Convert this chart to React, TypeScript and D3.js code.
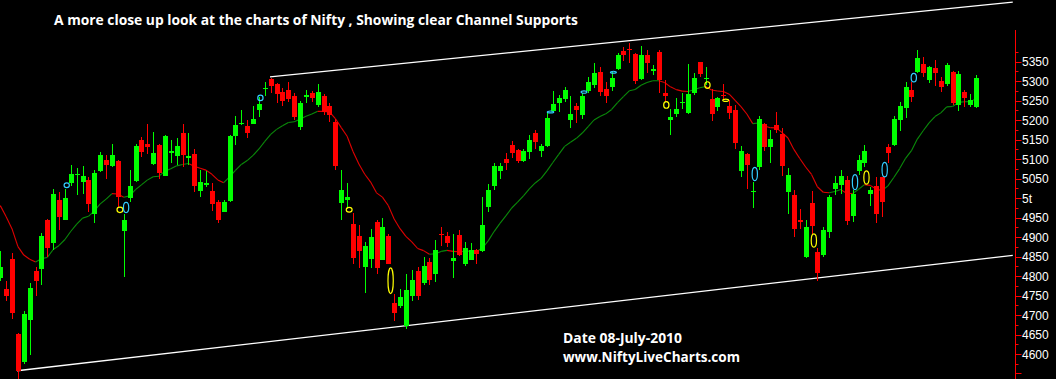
import React from "react";
import * as d3 from "d3";

// OHLC data (Nifty daily, ~Nov 2009 – 08 Jul 2010)
const opens = [4795,4767,4844,4651,4580,4687,4814,4818,4943,4884,4996,4945,5039,5059,5041,5047,4960,5070,5099,5083,5095,4915,5001,5044,5149,5140,5088,5136,5058,5116,5107,5166,5104,5113,5017,5035,5017,4990,4964,4992,5160,5190,5186,5191,5226,5280,5306,5294,5273,5277,5263,5183,5261,5270,5239,5262,5236,5196,4987,4996,4933,4902,4823,4844,4939,4842,4904,4730,4722,4673,4750,4814,4782,4837,4806,4909,4904,4838,4906,4831,4842,4868,4864,4977,5030,5070,5100,5136,5123,5095,5119,5168,5121,5134,5224,5245,5254,5200,5236,5213,5275,5290,5324,5279,5286,5330,5378,5383,5369,5306,5367,5329,5376,5269,5200,5216,5245,5219,5270,5348,5306,5254,5234,5265,5236,5226,5070,5113,5017,5080,5191,5131,5187,5164,5016,5007,4945,4848,4988,4863,4853,4913,5023,5033,5046,4953,5070,5090,5010,5030,5053,5130,5136,5200,5232,5277,5324,5344,5303,5334,5301,5294,5324,5239,5271,5239,5234];
const highs = [4865,4788,4859,4655,4711,4782,4823,4910,4947,5024,5016,5024,5084,5076,5082,5054,5071,5119,5110,5140,5097,4960,5073,5140,5157,5191,5170,5140,5163,5150,5153,5189,5167,5125,5071,5070,5039,4996,4996,5163,5210,5226,5200,5236,5260,5299,5308,5296,5282,5297,5270,5249,5277,5275,5293,5267,5243,5204,5073,5040,4963,4930,4887,4921,4943,4950,4909,4754,4767,4806,4816,4823,4848,4846,4893,4927,4913,4907,4917,4887,4884,4870,5003,5035,5089,5089,5117,5146,5127,5125,5162,5174,5138,5222,5275,5264,5286,5262,5245,5269,5312,5346,5337,5299,5324,5373,5389,5399,5373,5390,5380,5342,5380,5303,5228,5256,5269,5344,5320,5350,5337,5280,5260,5293,5252,5239,5133,5116,5041,5210,5193,5174,5221,5179,5077,5020,4973,4943,5018,4872,4926,5009,5056,5071,5056,5020,5110,5136,5029,5054,5054,5138,5210,5247,5299,5299,5380,5361,5339,5354,5312,5346,5327,5327,5277,5267,5316];
const lows = [4788,4737,4690,4534,4574,4597,4750,4777,4848,4867,4917,4943,5030,5007,5010,4964,4936,5067,5050,5080,4977,4797,4990,5041,5106,5113,5085,5050,5056,5090,5084,5080,5084,5016,5003,5028,4968,4936,4964,4990,5136,5187,5155,5190,5209,5263,5269,5243,5237,5247,5200,5174,5245,5246,5234,5213,5196,5073,4943,4973,4831,4821,4756,4821,4806,4840,4830,4684,4718,4664,4735,4739,4776,4776,4784,4878,4874,4795,4852,4827,4840,4831,4862,4964,5022,5048,5071,5103,5090,5092,5100,5125,5106,5131,5222,5222,5247,5180,5193,5204,5269,5282,5262,5245,5276,5328,5353,5346,5294,5303,5322,5316,5269,5247,5162,5207,5228,5216,5264,5312,5290,5198,5224,5252,5202,5127,5053,5024,4975,5071,5121,5089,5166,5056,4960,4900,4920,4846,4908,4788,4850,4898,5007,5011,4930,4938,5059,5080,4981,4936,4951,5089,5133,5173,5206,5247,5320,5310,5296,5288,5271,5288,5240,5224,5233,5234,5230];
const closes = [4822,4748,4704,4557,4703,4769,4787,4902,4872,5010,4951,5001,5063,5062,5056,4986,5065,5110,5084,5110,5003,4945,5030,5134,5119,5131,5117,5065,5159,5121,5133,5110,5109,5031,5041,5038,4986,4945,4990,5159,5187,5193,5167,5203,5241,5283,5288,5266,5250,5254,5209,5245,5264,5256,5272,5222,5213,5082,5020,5003,4846,4864,4876,4900,4821,4926,4831,4704,4747,4763,4791,4750,4827,4791,4866,4906,4884,4846,4855,4872,4866,4857,4930,5022,5082,5082,5089,5116,5095,5120,5149,5144,5133,5206,5241,5257,5277,5216,5226,5262,5297,5320,5273,5263,5307,5367,5367,5382,5301,5367,5346,5331,5303,5263,5209,5228,5247,5267,5309,5318,5309,5217,5256,5263,5219,5142,5120,5084,5019,5203,5131,5151,5176,5082,5059,4920,4938,4927,4928,4807,4917,5004,5040,5056,4941,5011,5097,5120,5020,4958,4990,5116,5204,5236,5286,5260,5359,5322,5336,5322,5284,5342,5243,5318,5258,5251,5307];

// moving average: value of the line at the first bar
const maSeed = 4981;
const maPeriod = 15;

// y axis
const majorTicks = [4550,4600,4650,4700,4750,4800,4850,4900,4950,5000,5050,5100,5150,5200,5250,5300,5350];
const tickLabels = ["","4600","4650","4700","4750","4800","4850","4900","4950","5t","5050","5100","5150","5200","5250","5300","5350"];
const minorTicks = [4575,4625,4675,4725,4775,4825,4875,4925,4975,5025,5075,5125,5175,5225,5275,5325,5375];

// channel lines (bar index, price)
const upperChannel = [[45.88, 5311], [172.24, 5503]];
const lowerChannel = [[2.84, 4557], [172.24, 4853]];

// ellipse markers: bar index, price, half-width (bars), half-height (price), colour key
const markerIdx = [11.3, 20.35, 21.4, 44.25, 59.35, 66.4, 93.6, 99.3, 104.3, 113.3, 120.3, 123.4, 128.35, 138.4, 145.4, 147.35, 150.45, 155.4];
const markerPrice = [5033, 4970, 4976, 5257, 4970, 4788, 5221, 5272, 5323, 5239, 5290, 5251, 5062, 4891, 5041, 5053, 5073, 5309];
const markerRy = [6, 7, 13, 7, 6, 33, 2.5, 3, 2.5, 8.5, 8.5, 3, 17, 17, 19, 17, 18.5, 11];
const markerRx = [0.45, 0.5, 0.45, 0.45, 0.5, 0.45, 0.55, 0.5, 0.5, 0.45, 0.45, 0.5, 0.45, 0.45, 0.45, 0.45, 0.45, 0.45];
const markerKind = ["c","y","c","c","y","y","c","c","c","y","y","y","c","y","c","y","c","c"];

const title = "A more close up look at the charts of Nifty , Showing clear Channel Supports";
const footer1 = "Date 08-July-2010";
const footer2 = "www.NiftyLiveCharts.com";

const W = 1056, H = 379;

export default function App() {
  const n = closes.length;
  const x = d3.scaleLinear().domain([0, n - 1]).range([0.3, 976.1]);
  const y = d3.scaleLinear().domain([4600, 5350]).range([354, 61.7]);

  const alpha = 2 / (maPeriod + 1);
  const ma: number[] = [];
  closes.forEach((c, i) => {
    ma.push(i === 0 ? maSeed : ma[i - 1] + alpha * (c - ma[i - 1]));
  });

  const axisX = 1015.5;
  const font = "'Open Sans', 'Noto Sans', sans-serif";

  return (
    <svg width={W} height={H} style={{ position: "absolute", left: 0, top: 0, background: "#000" }}>
      <rect x={0} y={0} width={W} height={H} fill="#000" />
      {/* channel lines */}
      {[upperChannel, lowerChannel].map((ln, k) => (
        <line key={k} x1={x(ln[0][0])} y1={y(ln[0][1])} x2={x(ln[1][0])} y2={y(ln[1][1])} stroke="#fff" strokeWidth={1.3} />
      ))}
      {/* moving average */}
      <g>
        {ma.slice(1).map((v, k) => {
          const i = k + 1;
          const col = v < ma[i - 1] ? "#e00000" : "#0a8a0a";
          return <line key={i} x1={x(i - 1)} y1={y(ma[i - 1])} x2={x(i)} y2={y(v)} stroke={col} strokeWidth={1.1} />;
        })}
      </g>
      {/* candles */}
      <g shapeRendering="crispEdges">
        {closes.map((c, i) => {
          const o = opens[i];
          const up = c >= o;
          const col = up ? "#00ff00" : "#ff0000";
          const cx = Math.round(x(i));
          const top = y(Math.max(o, c));
          const bot = y(Math.min(o, c));
          const hgt = Math.max(bot - top, 1.5);
          return (
            <g key={i}>
              <rect x={cx} y={y(highs[i])} width={1} height={y(lows[i]) - y(highs[i])} fill={col} />
              <rect x={cx - 2} y={top} width={5} height={hgt} fill={col} />
            </g>
          );
        })}
      </g>
      {/* markers */}
      {markerIdx.map((mi, k) => {
        const cx = x(mi);
        const cy = y(markerPrice[k]);
        const rx = x(mi + markerRx[k]) - cx;
        const ry = y(markerPrice[k] - markerRy[k]) - cy;
        return (
          <ellipse key={k} cx={cx} cy={cy} rx={rx} ry={ry} fill="none"
            stroke={markerKind[k] === "c" ? "#33ccff" : "#ffff00"} strokeWidth={1.2} />
        );
      })}
      {/* y axis */}
      <g>
        <rect x={axisX - 0.5} y={30} width={1} height={H - 30} fill="#ff0000" />
        {majorTicks.map((t, k) => (
          <g key={t}>
            <rect x={axisX} y={Math.round(y(t))} width={6} height={1} fill="#ff0000" />
            {tickLabels[k] && (
              <text x={1022} y={y(t) + 0.5} dominantBaseline="central" fill="#fff"
                fontFamily="'Liberation Sans', Arial, sans-serif" fontSize={12}>{tickLabels[k]}</text>
            )}
          </g>
        ))}
        {minorTicks.map((t) => (
          <rect key={t} x={axisX} y={Math.round(y(t))} width={3} height={1} fill="#ff0000" />
        ))}
      </g>
      {/* texts */}
      <text x={54} y={25} fill="#fff" fontFamily={font} fontWeight="bold" fontSize={13.5}
        textLength={524} lengthAdjust="spacingAndGlyphs">{title}</text>
      <text x={563} y={343} fill="#fff" fontFamily={font} fontWeight="bold" fontSize={13.5}
        textLength={119} lengthAdjust="spacingAndGlyphs">{footer1}</text>
      <text x={563} y={361.5} fill="#fff" fontFamily={font} fontWeight="bold" fontSize={13.5}
        textLength={177} lengthAdjust="spacingAndGlyphs">{footer2}</text>
    </svg>
  );
}
